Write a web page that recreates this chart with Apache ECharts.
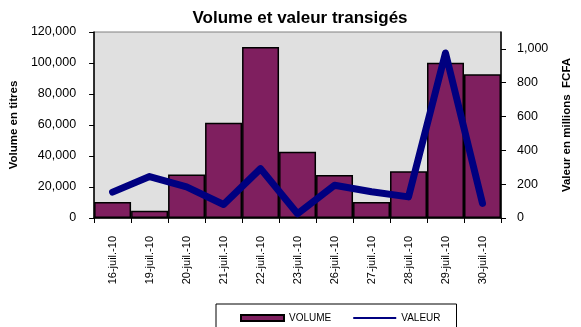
<!DOCTYPE html>
<html>
<head>
<meta charset="utf-8">
<script src="https://cdn.jsdelivr.net/npm/echarts@6/dist/echarts.min.js"></script>
<style>
  html, body { margin: 0; padding: 0; background: #fff; }
  #chart { width: 581px; height: 327px; }
</style>
</head>
<body>
<div id="chart"></div>
<script>
// Trading days (July 2010)
const categories = ['16-juil.-10', '19-juil.-10', '20-juil.-10', '21-juil.-10', '22-juil.-10',
  '23-juil.-10', '26-juil.-10', '27-juil.-10', '28-juil.-10', '29-juil.-10', '30-juil.-10'];
// Volume traded (shares)
const volume = [10300, 4700, 28000, 61500, 110300, 42800, 27700, 10300, 30100, 100200, 92700];
// Value traded (millions FCFA)
const valeur = [153, 245, 184, 80, 292, 25, 194, 155, 125, 976, 86];

const font = 'Liberation Sans, Arial, sans-serif';
const chart = echarts.init(document.getElementById('chart'));

chart.setOption({
  animation: false,
  textStyle: { fontFamily: font, color: '#000' },
  title: {
    text: 'Volume et valeur transigés',
    left: 295, top: 5, textAlign: 'center',
    textStyle: { fontFamily: font, fontSize: 17, fontWeight: 'bold', color: '#000' }
  },
  grid: {
    left: 94, right: 72, top: 32, bottom: 109,
    show: true, backgroundColor: '#E0E0E0', borderColor: '#808080', borderWidth: 1
  },
  legend: {
    left: 216, top: 304,
    padding: [9, 16, 20, 24],
    itemGap: 22,
    itemWidth: 43, itemHeight: 6,
    borderColor: '#000', borderWidth: 1,
    textStyle: { fontFamily: font, fontSize: 10, color: '#000' },
    data: [
      { name: 'VOLUME', icon: 'rect' },
      // thin flat bar for the line key
      { name: 'VALEUR', icon: 'path://M0,0H43V2H0Z' }
    ]
  },
  xAxis: {
    type: 'category',
    data: categories,
    boundaryGap: true,
    axisLine: { lineStyle: { color: '#000', width: 1.5 } },
    axisTick: { show: true, length: 5, lineStyle: { color: '#000' } },
    axisLabel: { rotate: 90, fontSize: 11, margin: 18, color: '#000', fontFamily: font }
  },
  yAxis: [
    {
      type: 'value', min: 0, max: 120000, interval: 20000,
      name: 'Volume en titres', nameLocation: 'middle', nameRotate: 90, nameGap: 71,
      nameTextStyle: { fontFamily: font, fontSize: 11.5, fontWeight: 'bold', color: '#000' },
      axisLine: { show: true, lineStyle: { color: '#000', width: 1.5 } },
      axisTick: { show: true, length: 5, lineStyle: { color: '#000' } },
      splitLine: { show: false },
      axisLabel: {
        fontSize: 12.5, margin: 18, color: '#000', fontFamily: font,
        formatter: v => v.toLocaleString('en-US')
      }
    },
    {
      type: 'value', min: 0, max: 1100, interval: 200,
      name: 'Valeur en millions  FCFA', nameLocation: 'middle', nameRotate: 90, nameGap: 60,
      nameTextStyle: { fontFamily: font, fontSize: 11.5, fontWeight: 'bold', color: '#000' },
      axisLine: { show: true, lineStyle: { color: '#000', width: 1.5 } },
      axisTick: { show: true, length: 5, lineStyle: { color: '#000' } },
      splitLine: { show: false },
      axisLabel: {
        fontSize: 12.5, margin: 16, color: '#000', fontFamily: font, showMaxLabel: false,
        formatter: v => v.toLocaleString('en-US')
      }
    }
  ],
  series: [
    {
      name: 'VOLUME', type: 'bar', data: volume, yAxisIndex: 0,
      barCategoryGap: '0%',
      itemStyle: { color: '#7F1F5F', borderColor: '#000', borderWidth: 1.5 }
    },
    {
      name: 'VALEUR', type: 'line', data: valeur, yAxisIndex: 1,
      symbol: 'none',
      itemStyle: { color: '#000080' },
      lineStyle: { color: '#000080', width: 7, cap: 'round', join: 'round' }
    }
  ]
});
</script>
</body>
</html>
